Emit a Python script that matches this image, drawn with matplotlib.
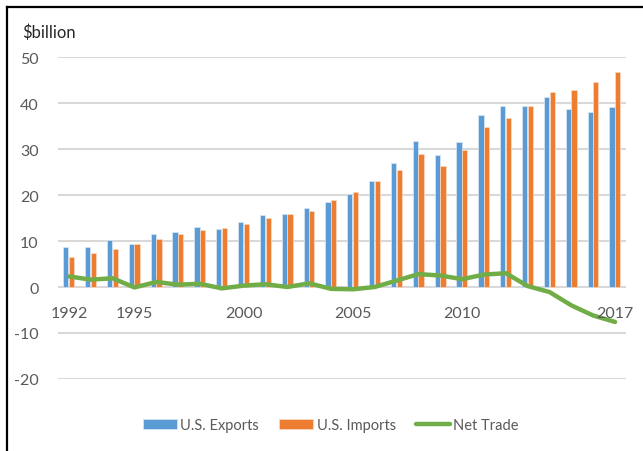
import matplotlib
matplotlib.use("Agg")
from matplotlib import pyplot as plt
from matplotlib.lines import Line2D
import numpy as np

# Values ($billion)
years = list(range(1992, 2018))
exports = [8.6, 8.8, 10.2, 9.3, 11.6, 12.0, 13.1, 12.6, 14.1, 15.7, 15.9, 17.2, 18.4,
           20.2, 23.0, 26.9, 31.8, 28.7, 31.6, 37.4, 39.4, 39.4, 41.4, 38.7, 38.1, 39.2]
imports = [6.5, 7.3, 8.2, 9.3, 10.4, 11.6, 12.4, 12.9, 13.8, 15.1, 15.9, 16.5, 18.9,
           20.7, 23.0, 25.5, 28.9, 26.2, 29.8, 34.8, 36.7, 39.4, 42.5, 42.8, 44.6, 46.7]
net_trade = [2.3, 1.6, 1.9, -0.1, 1.1, 0.5, 0.7, -0.3, 0.3, 0.6, 0.0, 0.8, -0.4,
             -0.5, 0.0, 1.4, 2.8, 2.5, 1.7, 2.7, 3.0, 0.2, -1.1, -4.0, -6.2, -7.6]
labelled_years = [1992, 1995, 2000, 2005, 2010, 2017]
y_ticks = [-20, -10, 0, 10, 20, 30, 40, 50]

FONT = ["Liberation Sans Narrow", "Lato", "DejaVu Sans"]
GREY = "#595959"


def main():
	plt.rcParams['font.family'] = FONT
	fig = plt.figure(figsize=(6.43, 4.52), dpi=100)
	ax = fig.add_axes([58 / 643, 1 - 380 / 452, 568 / 643, 322 / 452])

	x = np.arange(len(years))
	w = 0.24
	ax.bar(x - 0.14, exports, w, color="#5B9BD5", edgecolor="#DCE9F5", linewidth=0.5,
	       label="U.S. Exports", zorder=2)
	ax.bar(x + 0.12, imports, w, color="#ED7D31", edgecolor="#FADBC8", linewidth=0.5,
	       label="U.S. Imports", zorder=2)
	ax.plot(x, net_trade, color="#70AD47", linewidth=3.2, solid_joinstyle="round",
	        solid_capstyle="round", label="Net Trade", zorder=3)

	ax.set_xlim(-0.5, len(years) - 0.5)
	ax.set_ylim(-20, 50)
	ax.set_yticks(y_ticks)
	ax.set_yticklabels([str(t) for t in y_ticks], color=GREY, fontsize=11.5)
	ax.tick_params(axis="y", length=0, pad=14)
	ax.set_xticks([])
	ax.yaxis.grid(True, color="#D9D9D9", linewidth=1.5, zorder=0)
	ax.set_axisbelow(True)
	for s in ax.spines.values():
		s.set_visible(False)

	# year labels sit just under the zero line
	for yr in labelled_years:
		ax.text(years.index(yr), -5.6, str(yr), ha="center", va="center",
		        color=GREY, fontsize=11.5, zorder=4)

	fig.text(22 / 643, 1 - 33 / 452, "$billion", ha="left", va="center",
	         fontsize=12, color="#262626")

	# legend in the order Exports, Imports, Net Trade
	handles, labels = ax.get_legend_handles_labels()
	order = [labels.index(n) for n in ["U.S. Exports", "U.S. Imports", "Net Trade"]]
	fig.legend([handles[i] for i in order], [labels[i] for i in order],
	           loc="center", bbox_to_anchor=(331 / 643, 1 - 426 / 452),
	           ncol=3, frameon=False, fontsize=10.5, handlelength=2.3, handleheight=0.75,
	           handletextpad=0.25, columnspacing=1.4, labelcolor=GREY)

	# top and left edges of the pasted frame
	fig.add_artist(Line2D([7 / 643, 1], [1 - 8 / 452, 1 - 8 / 452],
	                      transform=fig.transFigure, color="black", linewidth=1.6))
	fig.add_artist(Line2D([7 / 643, 7 / 643], [0, 1 - 8 / 452],
	                      transform=fig.transFigure, color="black", linewidth=1.6))

	fig.savefig("out.png", dpi=100)


if __name__ == "__main__":
	main()
